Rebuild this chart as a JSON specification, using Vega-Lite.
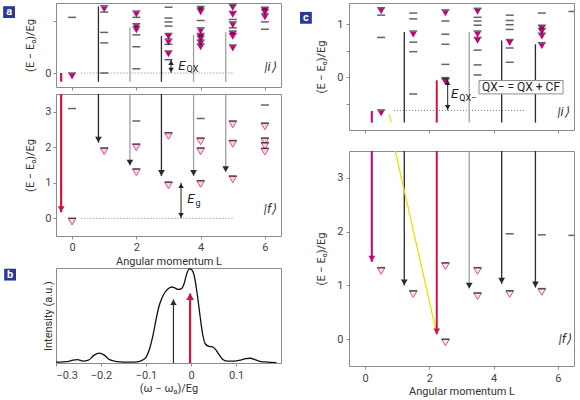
{
"$schema":"https://vega.github.io/schema/vega-lite/v6.json",
"padding":{"left":2,"top":2,"right":0,"bottom":0},
"background":"white",
"config":{
 "font":"Roboto",
 "view":{"stroke":"#8c8c8c","strokeWidth":1},
 "axis":{"domain":false,"grid":false,"tickColor":"#8c8c8c","tickSize":3,"labelColor":"#444","labelFontSize":11,"titleFontSize":11,"titleFontWeight":"normal","titleColor":"#333","labelPadding":2,"labelOverlap":false}
},
"datasets":{
 "lv":[
  {"p":"ai","L":0,"E":1.59,"t":"n"},{"p":"ai","L":0,"E":0,"t":"f"},
  {"p":"ai","L":1,"E":1.92,"t":"f"},{"p":"ai","L":1,"E":1.74,"t":"n"},{"p":"ai","L":1,"E":1.16,"t":"n"},{"p":"ai","L":1,"E":0.86,"t":"n"},{"p":"ai","L":1,"E":0,"t":"n"},
  {"p":"ai","L":2,"E":1.77,"t":"f"},{"p":"ai","L":2,"E":1.59,"t":"n"},{"p":"ai","L":2,"E":1.41,"t":"f"},{"p":"ai","L":2,"E":1.32,"t":"f"},{"p":"ai","L":2,"E":1.09,"t":"n"},{"p":"ai","L":2,"E":0.75,"t":"n"},{"p":"ai","L":2,"E":0.12,"t":"n"},
  {"p":"ai","L":3,"E":1.88,"t":"n"},{"p":"ai","L":3,"E":1.57,"t":"n"},{"p":"ai","L":3,"E":1.46,"t":"n"},{"p":"ai","L":3,"E":1.34,"t":"n"},{"p":"ai","L":3,"E":1.13,"t":"f"},{"p":"ai","L":3,"E":0.97,"t":"f"},{"p":"ai","L":3,"E":0.82,"t":"n"},{"p":"ai","L":3,"E":0.63,"t":"f"},{"p":"ai","L":3,"E":0.38,"t":"n"},
  {"p":"ai","L":4,"E":1.9,"t":"f"},{"p":"ai","L":4,"E":1.83,"t":"f"},{"p":"ai","L":4,"E":1.5,"t":"n"},{"p":"ai","L":4,"E":1.29,"t":"f"},{"p":"ai","L":4,"E":1.13,"t":"f"},{"p":"ai","L":4,"E":1.06,"t":"f"},{"p":"ai","L":4,"E":0.94,"t":"f"},{"p":"ai","L":4,"E":0.83,"t":"f"},
  {"p":"ai","L":5,"E":1.96,"t":"f"},{"p":"ai","L":5,"E":1.76,"t":"f"},{"p":"ai","L":5,"E":1.53,"t":"n"},{"p":"ai","L":5,"E":1.46,"t":"f"},{"p":"ai","L":5,"E":1.29,"t":"n"},{"p":"ai","L":5,"E":1.2,"t":"f"},{"p":"ai","L":5,"E":1.13,"t":"f"},{"p":"ai","L":5,"E":0.8,"t":"f"},
  {"p":"ai","L":6,"E":1.88,"t":"f"},{"p":"ai","L":6,"E":1.82,"t":"f"},{"p":"ai","L":6,"E":1.69,"t":"f"},{"p":"ai","L":6,"E":1.46,"t":"n"},{"p":"ai","L":6,"E":1.25,"t":"n"},
  {"p":"af","L":0,"E":3.09,"t":"n"},{"p":"af","L":0,"E":0,"t":"o"},
  {"p":"af","L":1,"E":1.98,"t":"o"},
  {"p":"af","L":2,"E":2.74,"t":"n"},{"p":"af","L":2,"E":2.09,"t":"o"},{"p":"af","L":2,"E":1.39,"t":"o"},
  {"p":"af","L":3,"E":2.41,"t":"o"},{"p":"af","L":3,"E":1.02,"t":"o"},
  {"p":"af","L":4,"E":2.81,"t":"n"},{"p":"af","L":4,"E":2.26,"t":"o"},{"p":"af","L":4,"E":1.98,"t":"o"},{"p":"af","L":4,"E":1.06,"t":"o"},
  {"p":"af","L":5,"E":2.74,"t":"o"},{"p":"af","L":5,"E":2.19,"t":"o"},{"p":"af","L":5,"E":1.19,"t":"o"},
  {"p":"af","L":6,"E":3.19,"t":"n"},{"p":"af","L":6,"E":2.68,"t":"o"},{"p":"af","L":6,"E":2.26,"t":"o"},{"p":"af","L":6,"E":2.13,"t":"o"},{"p":"af","L":6,"E":1.97,"t":"o"},
  {"p":"ci","L":0.5,"E":1.31,"t":"f"},{"p":"ci","L":0.5,"E":1.17,"t":"n"},{"p":"ci","L":0.5,"E":0.75,"t":"n"},{"p":"ci","L":0.5,"E":-0.62,"t":"f"},
  {"p":"ci","L":1.5,"E":1.21,"t":"n"},{"p":"ci","L":1.5,"E":1.1,"t":"n"},{"p":"ci","L":1.5,"E":0.87,"t":"f"},{"p":"ci","L":1.5,"E":0.66,"t":"n"},{"p":"ci","L":1.5,"E":0.48,"t":"n"},{"p":"ci","L":1.5,"E":-0.32,"t":"n"},
  {"p":"ci","L":2.5,"E":1.27,"t":"f"},{"p":"ci","L":2.5,"E":1.06,"t":"n"},{"p":"ci","L":2.5,"E":0.81,"t":"n"},{"p":"ci","L":2.5,"E":0.62,"t":"n"},{"p":"ci","L":2.5,"E":0.24,"t":"n"},{"p":"ci","L":2.5,"E":-0.01,"t":"f"},{"p":"ci","L":2.5,"E":-0.03,"t":"f"},
  {"p":"ci","L":3.5,"E":1.3,"t":"f"},{"p":"ci","L":3.5,"E":1.13,"t":"n"},{"p":"ci","L":3.5,"E":1.06,"t":"n"},{"p":"ci","L":3.5,"E":0.98,"t":"n"},{"p":"ci","L":3.5,"E":0.87,"t":"f"},{"p":"ci","L":3.5,"E":0.75,"t":"f"},{"p":"ci","L":3.5,"E":0.51,"t":"n"},{"p":"ci","L":3.5,"E":0.23,"t":"n"},{"p":"ci","L":3.5,"E":0.04,"t":"n"},
  {"p":"ci","L":4.5,"E":1.17,"t":"n"},{"p":"ci","L":4.5,"E":1.07,"t":"n"},{"p":"ci","L":4.5,"E":0.99,"t":"n"},{"p":"ci","L":4.5,"E":0.9,"t":"n"},{"p":"ci","L":4.5,"E":0.71,"t":"f"},{"p":"ci","L":4.5,"E":0.55,"t":"n"},{"p":"ci","L":4.5,"E":0.28,"t":"n"},
  {"p":"ci","L":5.5,"E":1.21,"t":"n"},{"p":"ci","L":5.5,"E":0.98,"t":"f"},{"p":"ci","L":5.5,"E":0.92,"t":"f"},{"p":"ci","L":5.5,"E":0.83,"t":"f"},{"p":"ci","L":5.5,"E":0.65,"t":"f"},
  {"p":"ci","L":6.45,"E":1.24,"t":"n"},
  {"p":"cf","L":0.5,"E":1.33,"t":"o"},{"p":"cf","L":1.5,"E":0.9,"t":"o"},{"p":"cf","L":2.5,"E":1.42,"t":"o"},{"p":"cf","L":2.5,"E":0,"t":"o"},
  {"p":"cf","L":3.5,"E":1.33,"t":"o"},{"p":"cf","L":3.5,"E":0.86,"t":"o"},{"p":"cf","L":4.5,"E":1.96,"t":"n"},{"p":"cf","L":4.5,"E":0.9,"t":"o"},
  {"p":"cf","L":5.5,"E":1.94,"t":"n"},{"p":"cf","L":5.5,"E":0.94,"t":"o"},{"p":"cf","L":6.45,"E":1.93,"t":"n"}
 ],
 "ar":[
  {"p":"ai","L":-0.34,"E":0,"L2":-0.34,"E2":-0.25,"c":"r"},
  {"p":"ai","L":0.82,"E":1.9,"L2":0.82,"E2":-0.25,"c":"k"},
  {"p":"ai","L":1.8,"E":1.3,"L2":1.8,"E2":-0.25,"c":"g"},
  {"p":"ai","L":2.78,"E":1.06,"L2":2.78,"E2":-0.25,"c":"k"},
  {"p":"ai","L":3.78,"E":1.09,"L2":3.78,"E2":-0.25,"c":"g"},
  {"p":"ai","L":4.78,"E":1.17,"L2":4.78,"E2":-0.25,"c":"g"},
  {"p":"af","L":-0.34,"E":3.5,"L2":-0.34,"E2":0.17,"c":"r"},
  {"p":"af","L":0.82,"E":3.5,"L2":0.82,"E2":2.13,"c":"k"},
  {"p":"af","L":1.8,"E":3.5,"L2":1.8,"E2":1.48,"c":"g"},
  {"p":"af","L":2.78,"E":3.5,"L2":2.78,"E2":1.19,"c":"k"},
  {"p":"af","L":3.78,"E":3.5,"L2":3.78,"E2":1.19,"c":"g"},
  {"p":"af","L":4.78,"E":3.5,"L2":4.78,"E2":1.3,"c":"g"},
  {"p":"ci","L":0.21,"E":-0.64,"L2":0.21,"E2":-0.86,"c":"m"},
  {"p":"ci","L":1.22,"E":0.85,"L2":1.22,"E2":-0.86,"c":"k"},
  {"p":"ci","L":2.23,"E":-0.06,"L2":2.23,"E2":-0.86,"c":"r"},
  {"p":"ci","L":3.24,"E":0.85,"L2":3.24,"E2":-0.86,"c":"g"},
  {"p":"ci","L":4.25,"E":0.69,"L2":4.25,"E2":-0.86,"c":"k"},
  {"p":"ci","L":5.3,"E":0.62,"L2":5.3,"E2":-0.86,"c":"k"},
  {"p":"ci","L":0.754,"E":-0.708,"L2":0.813,"E2":-0.86,"c":"y"},
  {"p":"cf","L":0.21,"E":3.5,"L2":0.21,"E2":1.44,"c":"m"},
  {"p":"cf","L":1.22,"E":3.5,"L2":1.22,"E2":1.0,"c":"k"},
  {"p":"cf","L":2.23,"E":3.5,"L2":2.23,"E2":0.09,"c":"r"},
  {"p":"cf","L":3.24,"E":3.5,"L2":3.24,"E2":0.94,"c":"g"},
  {"p":"cf","L":4.25,"E":3.5,"L2":4.25,"E2":1.03,"c":"k"},
  {"p":"cf","L":5.3,"E":3.5,"L2":5.3,"E2":0.96,"c":"k"},
  {"p":"cf","L":0.94,"E":3.5,"L2":2.207,"E2":0.159,"c":"y"}
 ],
 "hd":[
  {"p":"af","L":-0.34,"E":0.17,"c":"r"},{"p":"af","L":0.82,"E":2.13,"c":"k"},{"p":"af","L":1.8,"E":1.48,"c":"k"},{"p":"af","L":2.78,"E":1.19,"c":"k"},{"p":"af","L":3.78,"E":1.19,"c":"k"},{"p":"af","L":4.78,"E":1.3,"c":"k"},
  {"p":"cf","L":0.21,"E":1.44,"c":"m"},{"p":"cf","L":1.22,"E":1.0,"c":"k"},{"p":"cf","L":2.23,"E":0.09,"c":"r"},{"p":"cf","L":3.24,"E":0.94,"c":"k"},{"p":"cf","L":4.25,"E":1.03,"c":"k"},{"p":"cf","L":5.3,"E":0.96,"c":"k"}
 ],
 "dt":[
  {"p":"ai","L":0.29,"L2":5.05,"E":0},
  {"p":"af","L":0.29,"L2":5.05,"E":0},
  {"p":"ci","L":0.9,"L2":5.0,"E":-0.63}
 ],
 "da":[
  {"p":"ai","L":3.08,"E":0,"E2":0.38},
  {"p":"af","L":3.39,"E":0,"E2":1.0},
  {"p":"ci","L":2.57,"E":-0.63,"E2":-0.05}
 ],
 "tx":[
  {"p":"ai","L":3.3,"E":0.195,"t":"E","k":"it"},{"p":"ai","L":3.56,"E":0.117,"t":"QX","k":"sub"},{"p":"ai","L":6.16,"E":0.17,"t":"|i⟩","k":"ket"},
  {"p":"af","L":3.58,"E":0.54,"t":"E","k":"it"},{"p":"af","L":3.84,"E":0.43,"t":"g","k":"sub"},{"p":"af","L":6.16,"E":0.25,"t":"|f⟩","k":"ket"},
  {"p":"ci","L":2.67,"E":-0.32,"t":"E","k":"it"},{"p":"ci","L":2.93,"E":-0.386,"t":"QX−","k":"sub"},{"p":"ci","L":6.16,"E":-0.66,"t":"|i⟩","k":"ket"},
  {"p":"ci","L":4.85,"E":-0.19,"t":"QX− = QX + CF","k":"box"},
  {"p":"cf","L":6.22,"E":0.0,"t":"|f⟩","k":"ket"}
 ],
 "bx":[{"p":"ci","L":3.545,"L2":6.16,"E":-0.064,"E2":-0.318}],
 "lt":[{"p":"ai","L":-1.96,"E":1.74,"t":"a"},{"p":"ci","L":-1.84,"E":1.12,"t":"c"}],
 "cv":[
  {"w":-0.3,"I":0.01},{"w":-0.291,"I":0.01},{"w":-0.275,"I":0.015},{"w":-0.262,"I":0.03},{"w":-0.252,"I":0.035},{"w":-0.24,"I":0.02},{"w":-0.228,"I":0.03},{"w":-0.216,"I":0.08},{"w":-0.204,"I":0.105},{"w":-0.192,"I":0.08},{"w":-0.181,"I":0.035},{"w":-0.165,"I":0.015},{"w":-0.15,"I":0.01},{"w":-0.135,"I":0.01},{"w":-0.12,"I":0.012},{"w":-0.108,"I":0.03},{"w":-0.1,"I":0.06},{"w":-0.092,"I":0.15},{"w":-0.085,"I":0.28},{"w":-0.078,"I":0.45},{"w":-0.071,"I":0.6},{"w":-0.064,"I":0.69},{"w":-0.057,"I":0.75},{"w":-0.05,"I":0.785},{"w":-0.043,"I":0.8},{"w":-0.036,"I":0.79},{"w":-0.029,"I":0.775},{"w":-0.022,"I":0.78},{"w":-0.015,"I":0.84},{"w":-0.01,"I":0.93},{"w":-0.004,"I":0.99},{"w":0.002,"I":0.98},{"w":0.008,"I":0.9},{"w":0.014,"I":0.72},{"w":0.02,"I":0.5},{"w":0.026,"I":0.3},{"w":0.032,"I":0.2},{"w":0.04,"I":0.175},{"w":0.048,"I":0.17},{"w":0.055,"I":0.14},{"w":0.062,"I":0.09},{"w":0.07,"I":0.04},{"w":0.08,"I":0.02},{"w":0.095,"I":0.02},{"w":0.11,"I":0.03},{"w":0.122,"I":0.045},{"w":0.132,"I":0.05},{"w":0.142,"I":0.035},{"w":0.155,"I":0.015},{"w":0.17,"I":0.01},{"w":0.19,"I":0.005}
 ],
 "ba":[{"w":-0.039,"I0":0,"I":0.67,"c":"k"},{"w":-0.002,"I0":0,"I":0.73,"c":"r"}]
},
"spacing":17,
"hconcat":[
 {"spacing":0,"vconcat":[
  {"spacing":2,"vconcat":[
   {"width":225,"height":84,"layer":[
    {"data":{"name":"dt"},"transform":[{"filter":"datum.p=='ai'"}],"mark":{"type":"rule","strokeDash":[1,2],"color":"#777"},
     "encoding":{"x":{"field":"L","type":"quantitative","scale":{"domain":[-0.5,6.5]},"axis":{"values":[0,0.5,1,1.5,2,2.5,3,3.5,4,4.5,5,5.5,6],"labels":false,"title":null}},"x2":{"field":"L2"},
      "y":{"field":"E","type":"quantitative","scale":{"domain":[-0.25,1.95]},"axis":{"values":[0,0.5,1,1.5],"labelExpr":"datum.value % 1 == 0 ? format(datum.value, 'd') : ''","title":"(E − E₀)/Eg","titlePadding":9}}}},
    {"data":{"name":"ar"},"transform":[{"filter":"datum.p=='ai' && (datum.c=='k' || datum.c=='g')"}],"mark":{"type":"rule","strokeWidth":1.3,"clip":true},
     "encoding":{"x":{"field":"L","type":"quantitative"},"x2":{"field":"L2"},"y":{"field":"E","type":"quantitative"},"y2":{"field":"E2"},"color":{"field":"c","type":"nominal","scale":{"domain":["k","g","r","m","y"],"range":["#2a2a2a","#a0a0a0","#d0143c","#c8007a","#f0e000"]},"legend":null}}},
    {"data":{"name":"ar"},"transform":[{"filter":"datum.p=='ai' && datum.c=='r'"}],"mark":{"type":"rule","strokeWidth":2.2,"clip":true},
     "encoding":{"x":{"field":"L","type":"quantitative"},"x2":{"field":"L2"},"y":{"field":"E","type":"quantitative"},"y2":{"field":"E2"},"color":{"field":"c","type":"nominal","scale":{"domain":["k","g","r","m","y"],"range":["#2a2a2a","#a0a0a0","#d0143c","#c8007a","#f0e000"]},"legend":null}}},
    {"data":{"name":"lv"},"transform":[{"filter":"datum.p=='ai' && datum.t=='f'"}],"mark":{"type":"point","shape":"triangle-down","filled":true,"size":45,"color":"#c8007a","opacity":1,"yOffset":3.5,"clip":true},
     "encoding":{"x":{"field":"L","type":"quantitative"},"y":{"field":"E","type":"quantitative"}}},
    {"data":{"name":"lv"},"transform":[{"filter":"datum.p=='ai'"}],"mark":{"type":"tick","orient":"horizontal","size":8,"thickness":1.5,"color":"#222","clip":true},
     "encoding":{"x":{"field":"L","type":"quantitative"},"y":{"field":"E","type":"quantitative"}}},
    {"data":{"name":"da"},"transform":[{"filter":"datum.p=='ai'"}],"mark":{"type":"rule","color":"#222","strokeWidth":1},
     "encoding":{"x":{"field":"L","type":"quantitative"},"y":{"field":"E","type":"quantitative"},"y2":{"field":"E2"}}},
    {"data":{"name":"da"},"transform":[{"filter":"datum.p=='ai'"}],"mark":{"type":"point","shape":"triangle-up","filled":true,"size":30,"color":"#222","opacity":1,"yOffset":3},
     "encoding":{"x":{"field":"L","type":"quantitative"},"y":{"field":"E2","type":"quantitative"}}},
    {"data":{"name":"da"},"transform":[{"filter":"datum.p=='ai'"}],"mark":{"type":"point","shape":"triangle-down","filled":true,"size":30,"color":"#222","opacity":1,"yOffset":-3},
     "encoding":{"x":{"field":"L","type":"quantitative"},"y":{"field":"E","type":"quantitative"}}},
    {"data":{"name":"tx"},"transform":[{"filter":"datum.p=='ai' && datum.k=='it'"}],"mark":{"type":"text","fontSize":13,"fontStyle":"italic","align":"left","baseline":"middle","color":"#222"},
     "encoding":{"x":{"field":"L","type":"quantitative"},"y":{"field":"E","type":"quantitative"},"text":{"field":"t"}}},
    {"data":{"name":"tx"},"transform":[{"filter":"datum.p=='ai' && datum.k=='sub'"}],"mark":{"type":"text","fontSize":9,"align":"left","baseline":"middle","color":"#222"},
     "encoding":{"x":{"field":"L","type":"quantitative"},"y":{"field":"E","type":"quantitative"},"text":{"field":"t"}}},
    {"data":{"name":"tx"},"transform":[{"filter":"datum.p=='ai' && datum.k=='ket'"}],"mark":{"type":"text","fontSize":13,"fontStyle":"italic","align":"center","baseline":"middle","color":"#333"},
     "encoding":{"x":{"field":"L","type":"quantitative"},"y":{"field":"E","type":"quantitative"},"text":{"field":"t"}}},
    {"data":{"name":"lt"},"transform":[{"filter":"datum.p=='ai'"}],"mark":{"type":"point","shape":"square","filled":true,"size":140,"color":"#2b3990","opacity":1},
     "encoding":{"x":{"field":"L","type":"quantitative"},"y":{"field":"E","type":"quantitative"}}},
    {"data":{"name":"lt"},"transform":[{"filter":"datum.p=='ai'"}],"mark":{"type":"text","fontSize":11,"fontWeight":"bold","color":"white","align":"center","baseline":"middle"},
     "encoding":{"x":{"field":"L","type":"quantitative"},"y":{"field":"E","type":"quantitative"},"text":{"field":"t"}}}
   ]},
   {"width":225,"height":142,"layer":[
    {"data":{"name":"dt"},"transform":[{"filter":"datum.p=='af'"}],"mark":{"type":"rule","strokeDash":[1,2],"color":"#777"},
     "encoding":{"x":{"field":"L","type":"quantitative","scale":{"domain":[-0.5,6.5]},"axis":{"values":[0,0.5,1,1.5,2,2.5,3,3.5,4,4.5,5,5.5,6],"labelExpr":"datum.value % 1 == 0 ? format(datum.value, 'd') : ''","title":"Angular momentum L","titlePadding":3}},"x2":{"field":"L2"},
      "y":{"field":"E","type":"quantitative","scale":{"domain":[-0.22,3.5]},"axis":{"values":[0,0.5,1,1.5,2,2.5,3],"labelExpr":"datum.value % 1 == 0 ? format(datum.value, 'd') : ''","title":"(E − E₀)/Eg","titlePadding":9}}}},
    {"data":{"name":"ar"},"transform":[{"filter":"datum.p=='af' && (datum.c=='k' || datum.c=='g')"}],"mark":{"type":"rule","strokeWidth":1.3,"clip":true},
     "encoding":{"x":{"field":"L","type":"quantitative"},"x2":{"field":"L2"},"y":{"field":"E","type":"quantitative"},"y2":{"field":"E2"},"color":{"field":"c","type":"nominal","scale":{"domain":["k","g","r","m","y"],"range":["#2a2a2a","#a0a0a0","#d0143c","#c8007a","#f0e000"]},"legend":null}}},
    {"data":{"name":"ar"},"transform":[{"filter":"datum.p=='af' && datum.c=='r'"}],"mark":{"type":"rule","strokeWidth":2.2,"clip":true},
     "encoding":{"x":{"field":"L","type":"quantitative"},"x2":{"field":"L2"},"y":{"field":"E","type":"quantitative"},"y2":{"field":"E2"},"color":{"field":"c","type":"nominal","scale":{"domain":["k","g","r","m","y"],"range":["#2a2a2a","#a0a0a0","#d0143c","#c8007a","#f0e000"]},"legend":null}}},
    {"data":{"name":"hd"},"transform":[{"filter":"datum.p=='af'"}],"mark":{"type":"point","shape":"triangle-down","filled":true,"size":45,"opacity":1,"yOffset":-3},
     "encoding":{"x":{"field":"L","type":"quantitative"},"y":{"field":"E","type":"quantitative"},"color":{"field":"c","type":"nominal","scale":{"domain":["k","g","r","m","y"],"range":["#2a2a2a","#a0a0a0","#d0143c","#c8007a","#f0e000"]},"legend":null}}},
    {"data":{"name":"lv"},"transform":[{"filter":"datum.p=='af' && datum.t=='o'"}],"mark":{"type":"point","shape":"triangle-down","filled":true,"size":55,"fill":"#fbd3e6","stroke":"#e0509a","strokeWidth":1,"opacity":1,"yOffset":3.5,"clip":true},
     "encoding":{"x":{"field":"L","type":"quantitative"},"y":{"field":"E","type":"quantitative"}}},
    {"data":{"name":"lv"},"transform":[{"filter":"datum.p=='af'"}],"mark":{"type":"tick","orient":"horizontal","size":8,"thickness":1.5,"color":"#222","clip":true},
     "encoding":{"x":{"field":"L","type":"quantitative"},"y":{"field":"E","type":"quantitative"}}},
    {"data":{"name":"da"},"transform":[{"filter":"datum.p=='af'"}],"mark":{"type":"rule","color":"#222","strokeWidth":1},
     "encoding":{"x":{"field":"L","type":"quantitative"},"y":{"field":"E","type":"quantitative"},"y2":{"field":"E2"}}},
    {"data":{"name":"da"},"transform":[{"filter":"datum.p=='af'"}],"mark":{"type":"point","shape":"triangle-up","filled":true,"size":30,"color":"#222","opacity":1,"yOffset":3},
     "encoding":{"x":{"field":"L","type":"quantitative"},"y":{"field":"E2","type":"quantitative"}}},
    {"data":{"name":"da"},"transform":[{"filter":"datum.p=='af'"}],"mark":{"type":"point","shape":"triangle-down","filled":true,"size":30,"color":"#222","opacity":1,"yOffset":-3},
     "encoding":{"x":{"field":"L","type":"quantitative"},"y":{"field":"E","type":"quantitative"}}},
    {"data":{"name":"tx"},"transform":[{"filter":"datum.p=='af' && datum.k=='it'"}],"mark":{"type":"text","fontSize":13,"fontStyle":"italic","align":"left","baseline":"middle","color":"#222"},
     "encoding":{"x":{"field":"L","type":"quantitative"},"y":{"field":"E","type":"quantitative"},"text":{"field":"t"}}},
    {"data":{"name":"tx"},"transform":[{"filter":"datum.p=='af' && datum.k=='sub'"}],"mark":{"type":"text","fontSize":9,"align":"left","baseline":"middle","color":"#222"},
     "encoding":{"x":{"field":"L","type":"quantitative"},"y":{"field":"E","type":"quantitative"},"text":{"field":"t"}}},
    {"data":{"name":"tx"},"transform":[{"filter":"datum.p=='af' && datum.k=='ket'"}],"mark":{"type":"text","fontSize":13,"fontStyle":"italic","align":"center","baseline":"middle","color":"#333"},
     "encoding":{"x":{"field":"L","type":"quantitative"},"y":{"field":"E","type":"quantitative"},"text":{"field":"t"}}}
   ]}
  ]},
  {"width":225,"height":95,"layer":[
   {"data":{"name":"cv"},"mark":{"type":"line","interpolate":"monotone","color":"#111","strokeWidth":1.3,"clip":true},
    "encoding":{"x":{"field":"w","type":"quantitative","scale":{"domain":[-0.3,0.19]},"axis":{"values":[-0.3,-0.25,-0.2,-0.15,-0.1,-0.05,0,0.05,0.1,0.15],"format":".1~f","labelExpr":"abs(round(datum.value*10)-datum.value*10) < 0.01 ? datum.label : ''","title":"(ω − ω₀)/Eg","labelPadding":3,"titlePadding":2}},
     "y":{"field":"I","type":"quantitative","scale":{"domain":[0,1]},"axis":{"labels":false,"ticks":false,"title":"Intensity (a.u.)","titlePadding":3}}}},
   {"data":{"name":"ba"},"transform":[{"filter":"datum.c=='k'"}],"mark":{"type":"rule","color":"#2a2a2a","strokeWidth":1.2},
    "encoding":{"x":{"field":"w","type":"quantitative"},"y":{"field":"I0","type":"quantitative"},"y2":{"field":"I"}}},
   {"data":{"name":"ba"},"transform":[{"filter":"datum.c=='r'"}],"mark":{"type":"rule","color":"#d0143c","strokeWidth":2.2},
    "encoding":{"x":{"field":"w","type":"quantitative"},"y":{"field":"I0","type":"quantitative"},"y2":{"field":"I"}}},
   {"data":{"name":"ba"},"transform":[{"filter":"datum.c=='k'"}],"mark":{"type":"point","shape":"triangle-up","filled":true,"size":40,"color":"#2a2a2a","opacity":1,"yOffset":3},
    "encoding":{"x":{"field":"w","type":"quantitative"},"y":{"field":"I","type":"quantitative"}}},
   {"data":{"name":"ba"},"transform":[{"filter":"datum.c=='r'"}],"mark":{"type":"point","shape":"triangle-up","filled":true,"size":60,"color":"#d0143c","opacity":1,"yOffset":3},
    "encoding":{"x":{"field":"w","type":"quantitative"},"y":{"field":"I","type":"quantitative"}}},
   {"data":{"values":[{"w":-0.402,"I":0.93,"t":"b"}]},"mark":{"type":"point","shape":"square","filled":true,"size":140,"color":"#2b3990","opacity":1},
    "encoding":{"x":{"field":"w","type":"quantitative"},"y":{"field":"I","type":"quantitative"}}},
   {"data":{"values":[{"w":-0.402,"I":0.93,"t":"b"}]},"mark":{"type":"text","fontSize":11,"fontWeight":"bold","color":"white","align":"center","baseline":"middle"},
    "encoding":{"x":{"field":"w","type":"quantitative"},"y":{"field":"I","type":"quantitative"},"text":{"field":"t"}}}
  ]}
 ]},
 {"spacing":16,"vconcat":[
  {"width":225,"height":127,"layer":[
   {"data":{"name":"dt"},"transform":[{"filter":"datum.p=='ci'"}],"mark":{"type":"rule","strokeDash":[1,2],"color":"#777"},
    "encoding":{"x":{"field":"L","type":"quantitative","scale":{"domain":[-0.5,6.5]},"axis":{"values":[0,0.5,1,1.5,2,2.5,3,3.5,4,4.5,5,5.5,6],"labels":false,"title":null}},"x2":{"field":"L2"},
     "y":{"field":"E","type":"quantitative","scale":{"domain":[-0.86,1.29]},"axis":{"values":[-0.5,0,0.5,1],"labelExpr":"datum.value == 0 ? '0' : (datum.value == 1 ? '1' : '')","title":"(E − E₀)/Eg","titlePadding":10,"labelPadding":3}}}},
   {"data":{"name":"ar"},"transform":[{"filter":"datum.p=='ci' && (datum.c=='k' || datum.c=='g' || datum.c=='y')"}],"mark":{"type":"rule","strokeWidth":1.3,"clip":true},
    "encoding":{"x":{"field":"L","type":"quantitative"},"x2":{"field":"L2"},"y":{"field":"E","type":"quantitative"},"y2":{"field":"E2"},"color":{"field":"c","type":"nominal","scale":{"domain":["k","g","r","m","y"],"range":["#2a2a2a","#a0a0a0","#d0143c","#c8007a","#f0e000"]},"legend":null}}},
   {"data":{"name":"ar"},"transform":[{"filter":"datum.p=='ci' && (datum.c=='r' || datum.c=='m')"}],"mark":{"type":"rule","strokeWidth":2,"clip":true},
    "encoding":{"x":{"field":"L","type":"quantitative"},"x2":{"field":"L2"},"y":{"field":"E","type":"quantitative"},"y2":{"field":"E2"},"color":{"field":"c","type":"nominal","scale":{"domain":["k","g","r","m","y"],"range":["#2a2a2a","#a0a0a0","#d0143c","#c8007a","#f0e000"]},"legend":null}}},
   {"data":{"name":"lv"},"transform":[{"filter":"datum.p=='ci' && datum.t=='f'"}],"mark":{"type":"point","shape":"triangle-down","filled":true,"size":45,"color":"#c8007a","opacity":1,"yOffset":3.5,"clip":true},
    "encoding":{"x":{"field":"L","type":"quantitative"},"y":{"field":"E","type":"quantitative"}}},
   {"data":{"name":"lv"},"transform":[{"filter":"datum.p=='ci'"}],"mark":{"type":"tick","orient":"horizontal","size":8,"thickness":1.5,"color":"#222","clip":true},
    "encoding":{"x":{"field":"L","type":"quantitative"},"y":{"field":"E","type":"quantitative"}}},
   {"data":{"name":"da"},"transform":[{"filter":"datum.p=='ci'"}],"mark":{"type":"rule","color":"#222","strokeWidth":1},
    "encoding":{"x":{"field":"L","type":"quantitative"},"y":{"field":"E","type":"quantitative"},"y2":{"field":"E2"}}},
   {"data":{"name":"da"},"transform":[{"filter":"datum.p=='ci'"}],"mark":{"type":"point","shape":"triangle-up","filled":true,"size":30,"color":"#222","opacity":1,"yOffset":3},
    "encoding":{"x":{"field":"L","type":"quantitative"},"y":{"field":"E2","type":"quantitative"}}},
   {"data":{"name":"da"},"transform":[{"filter":"datum.p=='ci'"}],"mark":{"type":"point","shape":"triangle-down","filled":true,"size":30,"color":"#222","opacity":1,"yOffset":-3},
    "encoding":{"x":{"field":"L","type":"quantitative"},"y":{"field":"E","type":"quantitative"}}},
   {"data":{"name":"bx"},"transform":[{"filter":"datum.p=='ci'"}],"mark":{"type":"rect","fill":"white","stroke":"#8c8c8c","strokeWidth":1},
    "encoding":{"x":{"field":"L","type":"quantitative"},"x2":{"field":"L2"},"y":{"field":"E","type":"quantitative"},"y2":{"field":"E2"}}},
   {"data":{"name":"tx"},"transform":[{"filter":"datum.p=='ci' && datum.k=='box'"}],"mark":{"type":"text","fontSize":12,"align":"center","baseline":"middle","color":"#222"},
    "encoding":{"x":{"field":"L","type":"quantitative"},"y":{"field":"E","type":"quantitative"},"text":{"field":"t"}}},
   {"data":{"name":"tx"},"transform":[{"filter":"datum.p=='ci' && datum.k=='it'"}],"mark":{"type":"text","fontSize":13,"fontStyle":"italic","align":"left","baseline":"middle","color":"#222"},
    "encoding":{"x":{"field":"L","type":"quantitative"},"y":{"field":"E","type":"quantitative"},"text":{"field":"t"}}},
   {"data":{"name":"tx"},"transform":[{"filter":"datum.p=='ci' && datum.k=='sub'"}],"mark":{"type":"text","fontSize":9,"align":"left","baseline":"middle","color":"#222"},
    "encoding":{"x":{"field":"L","type":"quantitative"},"y":{"field":"E","type":"quantitative"},"text":{"field":"t"}}},
   {"data":{"name":"tx"},"transform":[{"filter":"datum.p=='ci' && datum.k=='ket'"}],"mark":{"type":"text","fontSize":13,"fontStyle":"italic","align":"center","baseline":"middle","color":"#333"},
    "encoding":{"x":{"field":"L","type":"quantitative"},"y":{"field":"E","type":"quantitative"},"text":{"field":"t"}}},
   {"data":{"name":"lt"},"transform":[{"filter":"datum.p=='ci'"}],"mark":{"type":"point","shape":"square","filled":true,"size":140,"color":"#2b3990","opacity":1},
    "encoding":{"x":{"field":"L","type":"quantitative"},"y":{"field":"E","type":"quantitative"}}},
   {"data":{"name":"lt"},"transform":[{"filter":"datum.p=='ci'"}],"mark":{"type":"text","fontSize":11,"fontWeight":"bold","color":"white","align":"center","baseline":"middle"},
    "encoding":{"x":{"field":"L","type":"quantitative"},"y":{"field":"E","type":"quantitative"},"text":{"field":"t"}}}
  ]},
  {"width":225,"height":215,"layer":[
   {"data":{"name":"ar"},"transform":[{"filter":"datum.p=='cf' && (datum.c=='k' || datum.c=='g' || datum.c=='y')"}],"mark":{"type":"rule","strokeWidth":1.3,"clip":true},
    "encoding":{"x":{"field":"L","type":"quantitative","scale":{"domain":[-0.5,6.5]},"axis":{"values":[0,0.5,1,1.5,2,2.5,3,3.5,4,4.5,5,5.5,6],"labelExpr":"datum.value % 1 == 0 ? format(datum.value, 'd') : ''","title":"Angular momentum L","titlePadding":2,"labelPadding":3}},"x2":{"field":"L2"},
     "y":{"field":"E","type":"quantitative","scale":{"domain":[-0.24,3.5]},"axis":{"values":[0,0.5,1,1.5,2,2.5,3],"labelExpr":"datum.value % 1 == 0 ? format(datum.value, 'd') : ''","title":"(E − E₀)/Eg","titlePadding":10,"labelPadding":3}},"y2":{"field":"E2"},
     "color":{"field":"c","type":"nominal","scale":{"domain":["k","g","r","m","y"],"range":["#2a2a2a","#a0a0a0","#d0143c","#c8007a","#f0e000"]},"legend":null}}},
   {"data":{"name":"ar"},"transform":[{"filter":"datum.p=='cf' && (datum.c=='r' || datum.c=='m')"}],"mark":{"type":"rule","strokeWidth":2,"clip":true},
    "encoding":{"x":{"field":"L","type":"quantitative"},"x2":{"field":"L2"},"y":{"field":"E","type":"quantitative"},"y2":{"field":"E2"},"color":{"field":"c","type":"nominal","scale":{"domain":["k","g","r","m","y"],"range":["#2a2a2a","#a0a0a0","#d0143c","#c8007a","#f0e000"]},"legend":null}}},
   {"data":{"name":"hd"},"transform":[{"filter":"datum.p=='cf'"}],"mark":{"type":"point","shape":"triangle-down","filled":true,"size":45,"opacity":1,"yOffset":-3},
    "encoding":{"x":{"field":"L","type":"quantitative"},"y":{"field":"E","type":"quantitative"},"color":{"field":"c","type":"nominal","scale":{"domain":["k","g","r","m","y"],"range":["#2a2a2a","#a0a0a0","#d0143c","#c8007a","#f0e000"]},"legend":null}}},
   {"data":{"name":"lv"},"transform":[{"filter":"datum.p=='cf' && datum.t=='o'"}],"mark":{"type":"point","shape":"triangle-down","filled":true,"size":55,"fill":"#fde6f0","stroke":"#e0509a","strokeWidth":1,"opacity":1,"yOffset":3.5,"clip":true},
    "encoding":{"x":{"field":"L","type":"quantitative"},"y":{"field":"E","type":"quantitative"}}},
   {"data":{"name":"lv"},"transform":[{"filter":"datum.p=='cf'"}],"mark":{"type":"tick","orient":"horizontal","size":8,"thickness":1.5,"color":"#222","clip":true},
    "encoding":{"x":{"field":"L","type":"quantitative"},"y":{"field":"E","type":"quantitative"}}},
   {"data":{"name":"tx"},"transform":[{"filter":"datum.p=='cf' && datum.k=='ket'"}],"mark":{"type":"text","fontSize":13,"fontStyle":"italic","align":"center","baseline":"middle","color":"#333"},
    "encoding":{"x":{"field":"L","type":"quantitative"},"y":{"field":"E","type":"quantitative"},"text":{"field":"t"}}}
  ]}
 ]}
]
}
